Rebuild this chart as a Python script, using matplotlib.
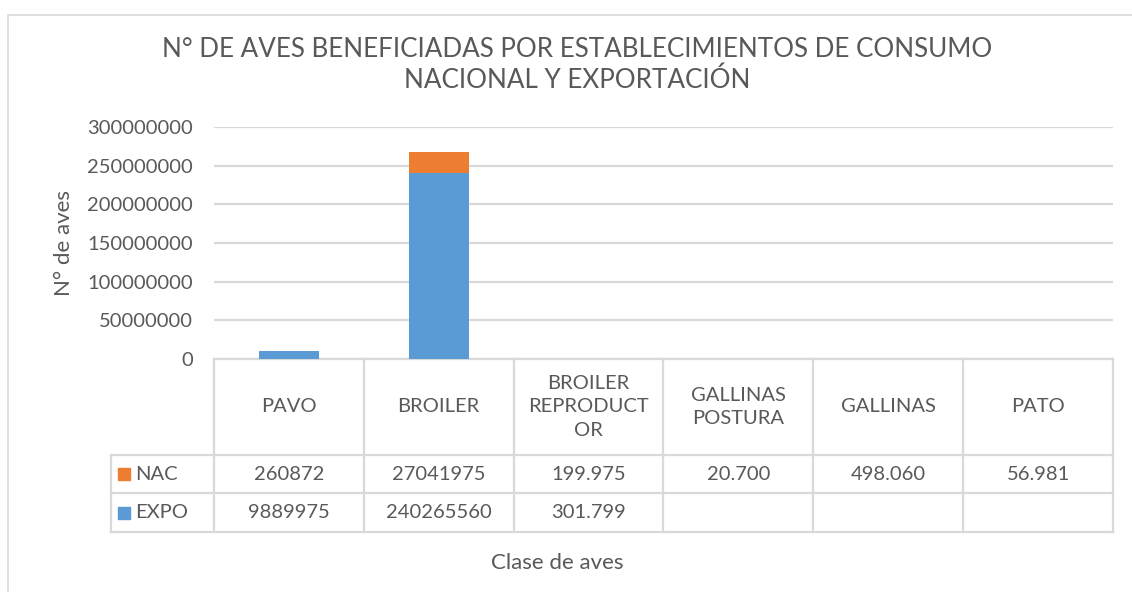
import matplotlib.pyplot as plt
from matplotlib.patches import Rectangle
import matplotlib.transforms as mtransforms

plt.rcParams['font.family'] = ['Lato', 'DejaVu Sans']

categorias = ['PAVO', 'BROILER', 'BROILER\nREPRODUCT\nOR', 'GALLINAS\nPOSTURA', 'GALLINAS', 'PATO']
nac = [260872, 27041975, 199.975, 20.700, 498.060, 56.981]
expo = [9889975, 240265560, 301.799, 0, 0, 0]
nac_txt = ['260872', '27041975', '199.975', '20.700', '498.060', '56.981']
expo_txt = ['9889975', '240265560', '301.799', '', '', '']

c_nac = '#ED7D31'
c_expo = '#5B9BD5'
gris = '#595959'
linea = '#d9d9d9'

W, H = 1132, 592
fig = plt.figure(figsize=(W / 100, H / 100), dpi=100)
fig.patch.set_facecolor('white')

# marco del gráfico
fig.add_artist(Rectangle((8 / W, -0.1), 1.2, 1 - 15 / H + 0.1, transform=fig.transFigure,
                         fill=False, edgecolor=linea, linewidth=1.2))

ax = fig.add_axes([214 / W, (H - 359) / H, (1113 - 214) / W, (359 - 127) / H])
x = list(range(len(categorias)))
ax.bar(x, expo, width=0.4, color=c_expo, zorder=3)
ax.bar(x, nac, width=0.4, bottom=expo, color=c_nac, zorder=3)

ax.set_xlim(-0.5, 5.5)
ax.set_ylim(0, 300000000)
ax.set_yticks(range(0, 300000001, 50000000))
ax.set_yticklabels([str(v) for v in range(0, 300000001, 50000000)])
ax.yaxis.grid(True, color=linea, linewidth=1.6, zorder=0)
ax.set_xticks([])
for s in ax.spines.values():
    s.set_visible(False)
ax.tick_params(axis='y', length=0, labelsize=14.5, labelcolor=gris, pad=15)

ax.set_ylabel('N° de aves', fontsize=16, color=gris, labelpad=10)

# tabla de datos
tr = mtransforms.blended_transform_factory(ax.transData, ax.transAxes)
px = 1 / (359 - 127)
y_top = 0
y_hdr = -(455 - 359) * px
y_nac = -(493 - 359) * px
y_expo = -(532 - 359) * px
x_lab = -0.5 - (214 - 111) / 150

kw = dict(transform=tr, color=linea, linewidth=1.6, clip_on=False)
ax.plot([-0.5, 5.5], [y_top, y_top], **kw)
for yy in (y_hdr, y_nac, y_expo):
    ax.plot([x_lab, 5.5], [yy, yy], **kw)
for i in range(len(categorias) + 1):
    ax.plot([i - 0.5, i - 0.5], [y_top, y_expo], **kw)
ax.plot([x_lab, x_lab], [y_hdr, y_expo], **kw)

tk = dict(transform=tr, ha='center', va='center', color=gris, fontsize=14.5, clip_on=False)
for i, cat in enumerate(categorias):
    ax.text(i, (y_top + y_hdr) / 2, cat, linespacing=1.45, **tk)
    ax.text(i, (y_hdr + y_nac) / 2, nac_txt[i], **tk)
    ax.text(i, (y_nac + y_expo) / 2, expo_txt[i], **tk)

for nombre, col, y0, y1 in [('NAC', c_nac, y_hdr, y_nac), ('EXPO', c_expo, y_nac, y_expo)]:
    ym = (y0 + y1) / 2
    ax.add_patch(Rectangle((x_lab + 7 / 150, ym - 6 * px), 12 / 150, 12 * px, transform=tr,
                           color=col, clip_on=False))
    ax.text(x_lab + 24 / 150, ym, nombre, transform=tr, ha='left', va='center',
            color=gris, fontsize=14.5, clip_on=False)

fig.text(557 / W, 1 - 563 / H, 'Clase de aves', ha='center', va='center', color=gris, fontsize=16)
fig.text(577 / W, 1 - 65 / H, 'N° DE AVES BENEFICIADAS POR ESTABLECIMIENTOS DE CONSUMO\nNACIONAL Y EXPORTACIÓN',
         ha='center', va='center', color=gris, fontsize=18.7, linespacing=1.25)

fig.savefig('out.png', dpi=100)
